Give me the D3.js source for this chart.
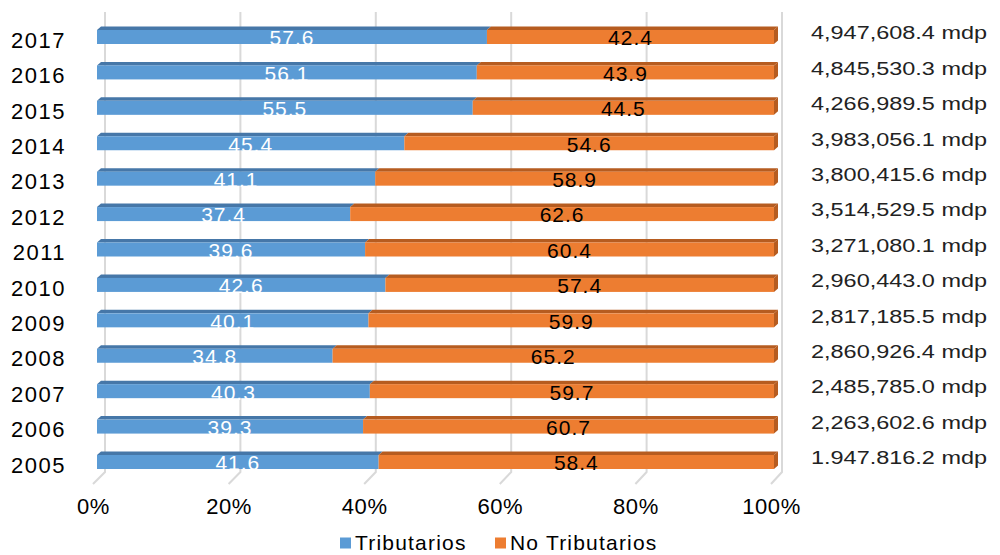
<!DOCTYPE html>
<html>
<head>
<meta charset="utf-8">
<script src="https://cdn.jsdelivr.net/npm/d3@7"></script>
<style>
  body { margin: 0; background: #fff; }
  svg { display: block; font-family: Arial, "Liberation Sans", sans-serif; }
</style>
</head>
<body>
<svg width="1000" height="555"></svg>
<script>
// data, top row first
const years = ['2017', '2016', '2015', '2014', '2013', '2012', '2011', '2010', '2009', '2008', '2007', '2006', '2005'];
const tributarios = [57.6, 56.1, 55.5, 45.4, 41.1, 37.4, 39.6, 42.6, 40.1, 34.8, 40.3, 39.3, 41.6];
const noTributarios = [42.4, 43.9, 44.5, 54.6, 58.9, 62.6, 60.4, 57.4, 59.9, 65.2, 59.7, 60.7, 58.4];
const totals = ['4,947,608.4 mdp', '4,845,530.3 mdp', '4,266,989.5 mdp', '3,983,056.1 mdp', '3,800,415.6 mdp',
  '3,514,529.5 mdp', '3,271,080.1 mdp', '2,960,443.0 mdp', '2,817,185.5 mdp', '2,860,926.4 mdp',
  '2,485,785.0 mdp', '2,263,602.6 mdp', '1.947.816.2 mdp'];
const seriesNames = ['Tributarios', 'No Tributarios'];
const ticks = [0, 20, 40, 60, 80, 100];

const svg = d3.select('svg');
const barH = 14;
const dx = 4, dy = 3.5;

const scaleY = d3.scalePoint().domain(years).range([37, 462]);
const scaleX = d3.scaleLinear().domain([0, 100]).range([97, 774]);       // bar front
const scaleBack = d3.scaleLinear().domain([0, 100]).range([105, 782]);   // back wall
const scaleFloor = d3.scaleLinear().domain([0, 100]).range([93, 771]);   // floor front edge
const colors = ['#5b9bd5', '#ed7d31'];
const topColors = ['#4677a8', '#b65c20'];

// gridlines (back wall + floor diagonal)
svg.append('g')
  .selectAll('path')
  .data(ticks)
  .enter()
  .append('path')
    .attr('d', d => `M${scaleBack(d)},12 L${scaleBack(d)},472 L${scaleFloor(d)},484`)
    .attr('fill', 'none')
    .attr('stroke', '#d9d9d9')
    .attr('stroke-width', 2);

// x axis labels
const axisX = d3.axisBottom(scaleFloor).tickValues(ticks).tickFormat(d => d + '%').tickSize(0).tickPadding(0);
const gx = svg.append('g')
  .attr('transform', 'translate(0,507)')
  .call(axisX);
gx.select('.domain').remove();
gx.selectAll('text')
  .attr('font-size', 22)
  .attr('font-family', 'Arial, "Liberation Sans", sans-serif')
  .attr('letter-spacing', 0.6)
  .attr('fill', '#000')
  .attr('dy', '0.32em')
  .attr('y', 0);

const rows = years.map((y, i) => ({ year: y, vals: [tributarios[i], noTributarios[i]], total: totals[i] }));

const row = svg.append('g')
  .selectAll('g')
  .data(rows)
  .enter()
  .append('g')
    .attr('transform', d => `translate(0,${scaleY(d.year) - barH / 2})`);

row.each(function (d) {
  const g = d3.select(this);
  const segs = [[0, d.vals[0]], [d.vals[0], 100]];
  segs.forEach((s, k) => {
    const x0 = scaleX(s[0]), x1 = scaleX(s[1]);
    g.append('path')
      .attr('d', `M${x0},0 L${x0 + dx},${-dy} L${x1 + dx},${-dy} L${x1},0 Z`)
      .attr('fill', topColors[k]);
    g.append('rect')
      .attr('x', x0)
      .attr('y', 0)
      .attr('width', x1 - x0)
      .attr('height', barH)
      .attr('fill', colors[k]);
    if (k === 1) {
      g.append('path')
        .attr('d', `M${x1},0 L${x1 + dx},${-dy} L${x1 + dx},${barH - dy} L${x1},${barH} Z`)
        .attr('fill', topColors[k]);
    }
    g.append('text')
      .attr('x', (x0 + x1) / 2)
      .attr('y', barH / 2 + 1)
      .attr('dy', '0.35em')
      .attr('text-anchor', 'middle')
      .attr('font-size', 21)
      .attr('letter-spacing', 1)
      .attr('fill', k === 0 ? '#fff' : '#000')
      .text(d.vals[k].toFixed(1));
  });
});

// year labels
row.append('text')
  .attr('x', 66)
  .attr('y', barH / 2 + 3)
  .attr('dy', '0.35em')
  .attr('text-anchor', 'end')
  .attr('font-size', 22)
  .attr('letter-spacing', 1.5)
  .attr('fill', '#000')
  .text(d => d.year);

// totals on the right
row.append('text')
  .attr('x', 811)
  .attr('y', barH / 2 - 4)
  .attr('dy', '0.35em')
  .attr('font-size', 18)
  .attr('textLength', 176)
  .attr('lengthAdjust', 'spacingAndGlyphs')
  .attr('fill', '#222')
  .text(d => d.total);

// legend
const legendX = [340, 495];
const legend = svg.append('g')
  .selectAll('g')
  .data(seriesNames)
  .enter()
  .append('g')
    .attr('transform', (d, i) => `translate(${legendX[i]},543)`);
legend.append('rect')
  .attr('x', 0)
  .attr('y', -5.5)
  .attr('width', 11)
  .attr('height', 11)
  .attr('fill', (d, i) => colors[i]);
legend.append('text')
  .attr('x', 15)
  .attr('y', 0)
  .attr('dy', '0.35em')
  .attr('font-size', 21)
  .attr('letter-spacing', 1.2)
  .attr('fill', '#000')
  .text(d => d);
</script>
</body>
</html>
